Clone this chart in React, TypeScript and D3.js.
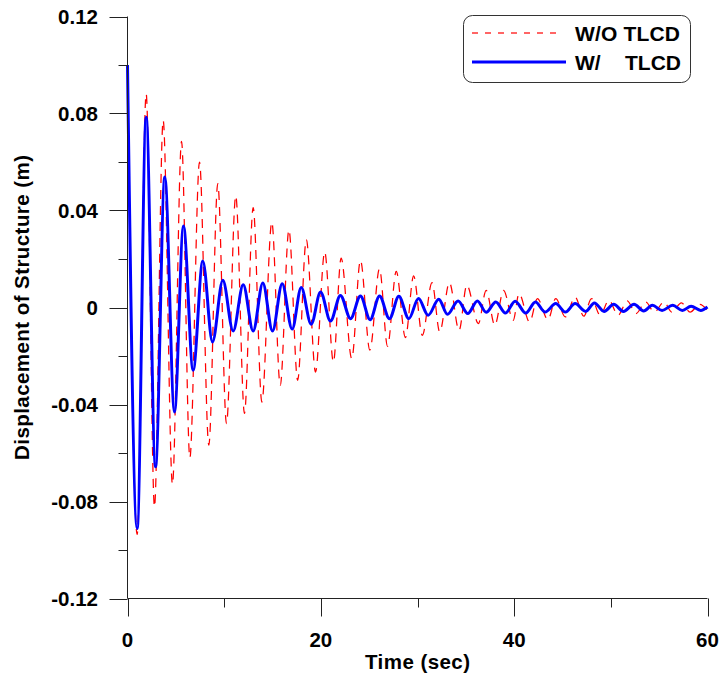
import React from "react";
import * as d3 from "d3";

// ---- data (extrema of each oscillation) ----
const timeWithout = [0, 1.0, 1.93, 2.79, 3.69, 4.65, 5.59, 6.45, 7.45, 8.41, 9.34, 10.24, 11.2, 12.1, 13.0, 13.9, 14.93, 15.8, 16.7, 17.6, 18.5, 19.45, 20.4, 21.3, 22.1, 23.2, 24.1, 25.07, 26.07, 26.9, 27.8, 28.75, 29.6, 30.5, 31.5, 32.3, 33.3, 34.3, 35.1, 36.3, 37.1, 38.0, 38.9, 39.9, 40.5, 41.6, 42.4, 43.5, 44.3, 45.3, 46.3, 47.2, 48.0, 48.9, 49.8, 50.75, 51.7, 52.6, 53.6, 54.5, 55.5, 56.3, 57.3, 58.2, 59.2, 60.0];
const dispWithout = [0.1, -0.0936, 0.0882, -0.0822, 0.0772, -0.0729, 0.0685, -0.062, 0.06, -0.0568, 0.0511, -0.0479, 0.0461, -0.0437, 0.0412, -0.039, 0.0352, -0.0321, 0.032, -0.03, 0.028, -0.0266, 0.0229, -0.0225, 0.0204, -0.0211, 0.0195, -0.0176, 0.016, -0.016, 0.0149, -0.0124, 0.013, -0.0115, 0.0103, -0.0101, 0.0103, -0.0094, 0.0092, -0.0066, 0.0071, -0.0073, 0.0071, -0.0053, 0.0057, -0.006, 0.0037, -0.005, 0.0037, -0.0039, 0.0043, -0.0036, 0.0037, -0.0032, 0.003, -0.0032, 0.0027, -0.0025, 0.0023, -0.0019, 0.0023, -0.0019, 0.0019, -0.0019, 0.0013, -0.0012];

const timeWith = [0, 1.0, 1.93, 2.9, 3.86, 4.86, 5.79, 6.79, 7.79, 8.79, 9.86, 10.93, 11.97, 13.0, 14.0, 15.0, 16.0, 17.03, 17.97, 19.0, 19.97, 21.0, 22.03, 23.07, 24.1, 25.1, 26.07, 27.1, 28.07, 29.1, 30.1, 31.1, 32.2, 33.1, 34.2, 35.2, 36.2, 37.1, 38.1, 39.1, 40.1, 41.2, 42.2, 43.2, 44.3, 45.3, 46.3, 47.4, 48.3, 49.3, 50.3, 51.3, 52.4, 53.4, 54.3, 55.3, 56.4, 57.4, 58.3, 59.3, 60.0];
const dispWith = [0.1, -0.0911, 0.0785, -0.0657, 0.0538, -0.0431, 0.0336, -0.0259, 0.0192, -0.0142, 0.0112, -0.0097, 0.0094, -0.0097, 0.0101, -0.0097, 0.0098, -0.0089, 0.0082, -0.0069, 0.0064, -0.0056, 0.005, -0.0046, 0.0047, -0.005, 0.0047, -0.0046, 0.0046, -0.0046, 0.0037, -0.0032, 0.0034, -0.0028, 0.0027, -0.0025, 0.0027, -0.002, 0.0023, -0.0023, 0.0026, -0.0023, 0.0023, -0.0019, 0.0016, -0.0019, 0.0016, -0.0016, 0.0019, -0.0016, 0.0013, -0.0016, 0.0013, -0.0014, 0.0009, -0.0012, 0.0009, -0.0012, 0.0005, -0.0012, 0.0002];

const xMajorTicks = [0, 20, 40, 60];
const xMinorTicks = [10, 30, 50];
const yMajorTicks = [0.12, 0.08, 0.04, 0, -0.04, -0.08, -0.12];
const yMajorLabels = ["0.12", "0.08", "0.04", "0", "-0.04", "-0.08", "-0.12"];
const yMinorTicks = [0.1, 0.06, 0.02, -0.02, -0.06, -0.1];
const seriesNames = ["W/O TLCD", "W/", "TLCD"];
const xTitle = "Time (sec)";
const yTitle = "Displacement of Structure (m)";

const FONT = "'Liberation Sans', Arial, Helvetica, sans-serif";

export default function App() {
  const W = 722, H = 679;
  const x = d3.scaleLinear().domain([0, 60]).range([127.5, 707.5]);
  const y = d3.scaleLinear().domain([-0.12, 0.12]).range([598.5, 16.5]);

  const line = d3
    .line<[number, number]>()
    .x((d) => x(d[0]))
    .y((d) => y(d[1]))
    .curve(d3.curveMonotoneX);

  const redPts: [number, number][] = timeWithout.map((t, i) => [t, dispWithout[i]]);
  const bluePts: [number, number][] = timeWith.map((t, i) => [t, dispWith[i]]);

  const axisColor = "#222";
  const x0 = x(0);
  const yBottom = y(-0.12);

  return (
    <div style={{ position: "absolute", left: 0, top: 0 }}>
      <svg width={W} height={H} style={{ display: "block", background: "#fff" }}>
        {/* data */}
        <path d={line(redPts) || ""} fill="none" stroke="#ff0000" strokeWidth={1.25} strokeDasharray="9,7" />
        <path d={line(bluePts) || ""} fill="none" stroke="#0000ff" strokeWidth={3} strokeLinejoin="round" />

        {/* axes */}
        <line x1={x0} x2={x0} y1={y(0.12)} y2={yBottom} stroke={axisColor} strokeWidth={1} />
        <line x1={x0} x2={x(60)} y1={yBottom} y2={yBottom} stroke={axisColor} strokeWidth={1} />
        {yMajorTicks.map((v, i) => (
          <g key={"ym" + i}>
            <line x1={x0 - 18} x2={x0} y1={Math.round(y(v)) + 0.5} y2={Math.round(y(v)) + 0.5} stroke={axisColor} strokeWidth={1} />
            <text x={98} y={y(v)} dy="0.36em" textAnchor="end" fontFamily={FONT} fontWeight="bold" fontSize={20.5} fill="#000">
              {yMajorLabels[i]}
            </text>
          </g>
        ))}
        {yMinorTicks.map((v, i) => (
          <line key={"yn" + i} x1={x0 - 9} x2={x0} y1={Math.round(y(v)) + 0.5} y2={Math.round(y(v)) + 0.5} stroke={axisColor} strokeWidth={1} />
        ))}
        {xMajorTicks.map((v, i) => (
          <g key={"xm" + i}>
            <line x1={Math.round(x(v)) + 0.5} x2={Math.round(x(v)) + 0.5} y1={yBottom} y2={yBottom + 18} stroke={axisColor} strokeWidth={1} />
            <text x={x(v)} y={647} textAnchor="middle" fontFamily={FONT} fontWeight="bold" fontSize={20.5} fill="#000">
              {String(v)}
            </text>
          </g>
        ))}
        {xMinorTicks.map((v, i) => (
          <line key={"xn" + i} x1={Math.round(x(v)) + 0.5} x2={Math.round(x(v)) + 0.5} y1={yBottom} y2={yBottom + 9} stroke={axisColor} strokeWidth={1} />
        ))}

        {/* axis titles */}
        <text x={(x(0) + x(60)) / 2} y={669} textAnchor="middle" fontFamily={FONT} fontWeight="bold" fontSize={20.5} textLength={105} lengthAdjust="spacing" fill="#000">
          {xTitle}
        </text>
        <text transform={`translate(28.5, 307.5) rotate(-90)`} textAnchor="middle" fontFamily={FONT} fontWeight="bold" fontSize={20.5} textLength={305} lengthAdjust="spacing" fill="#000">
          {yTitle}
        </text>

        {/* legend */}
        <rect x={463.5} y={15.5} width={227} height={67} rx={9} ry={9} fill="#fff" stroke="#333" strokeWidth={1} />
        <line x1={472} x2={561} y1={33} y2={33} stroke="#ff3333" strokeWidth={1.4} strokeDasharray="6,7" />
        <line x1={472} x2={566} y1={62} y2={62} stroke="#0000ff" strokeWidth={3} />
        <text x={575} y={40.5} fontFamily={FONT} fontWeight="bold" fontSize={21} textLength={105} lengthAdjust="spacing" fill="#000">
          {seriesNames[0]}
        </text>
        <text y={69.5} fontFamily={FONT} fontWeight="bold" fontSize={21} fill="#000">
          <tspan x={575}>{seriesNames[1]}</tspan>
          <tspan x={625}>{seriesNames[2]}</tspan>
        </text>
      </svg>
    </div>
  );
}
